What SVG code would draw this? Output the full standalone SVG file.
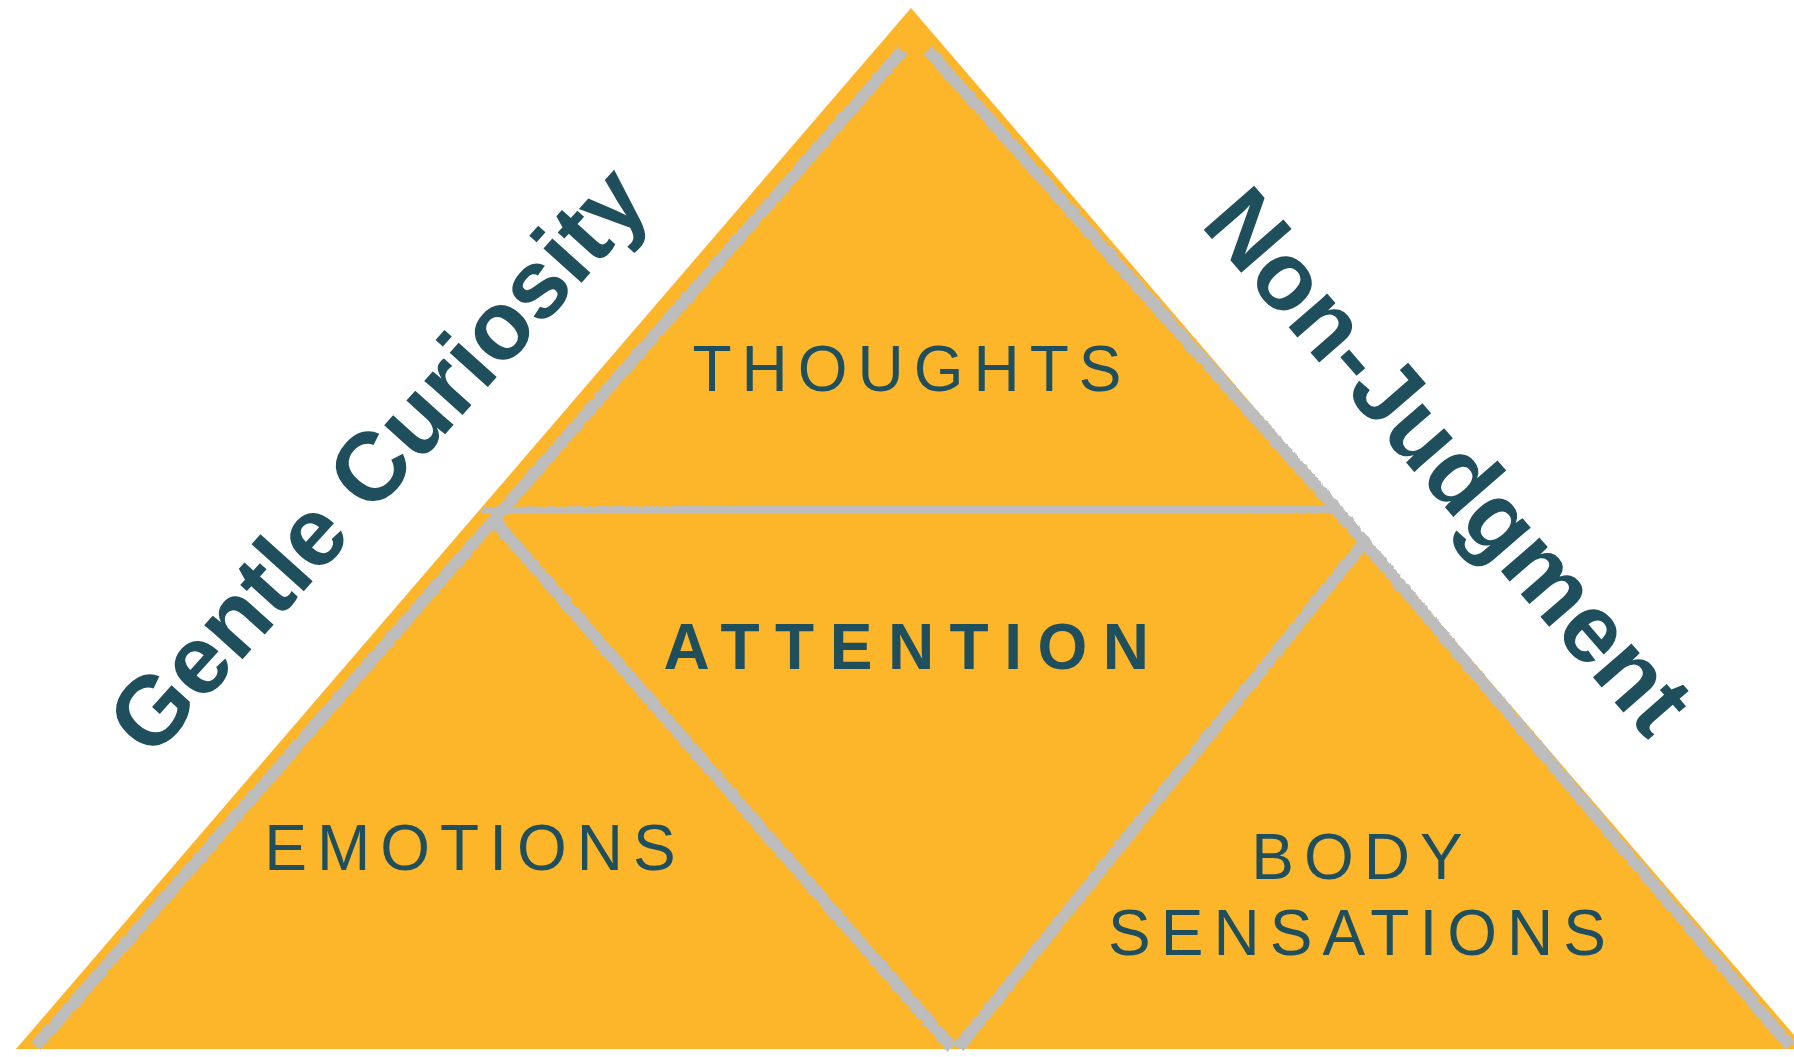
<svg xmlns="http://www.w3.org/2000/svg" width="1794" height="1057" viewBox="0 0 1794 1057">
  <style>
    .label { font-family: "Liberation Sans", Arial, sans-serif; fill: #1f4e5c; }
    .area { font-size: 64px; letter-spacing: 10px; text-anchor: middle; }
    .core { font-size: 64px; font-weight: bold; letter-spacing: 15.5px; text-anchor: middle; }
    .side { font-size: 97px; font-weight: bold; text-anchor: middle; }
    .chalk { stroke: #bdbdbd; stroke-width: 12; fill: none; stroke-linecap: butt; stroke-linejoin: round; filter: url(#rough); }
  </style>
  <defs>
    <filter id="rough" x="-5%" y="-5%" width="110%" height="110%">
      <feTurbulence type="fractalNoise" baseFrequency="0.25" numOctaves="2" seed="7" result="noise"/>
      <feDisplacementMap in="SourceGraphic" in2="noise" scale="4" xChannelSelector="R" yChannelSelector="G"/>
    </filter>
  </defs>

  <rect width="1794" height="1057" fill="#ffffff"/>

  <!-- outer pyramid -->
  <g id="pyramid">
    <polygon points="911,8 1806,1049 16,1049" fill="#fdb52a"/>
  </g>

  <!-- chalk dividing lines -->
  <g id="connectors">
    <line class="chalk" x1="36" y1="1046" x2="903" y2="50"/>
    <polyline class="chalk" points="928,50 1150,300 1333,505 1790,1046"/>
    <line class="chalk" x1="482" y1="513" x2="1340" y2="507"/>
    <line class="chalk" x1="492" y1="518" x2="952" y2="1048"/>
    <line class="chalk" x1="1362" y1="545" x2="958" y2="1048"/>
    <line class="chalk" x1="18" y1="1051" x2="1794" y2="1051" style="stroke-width:12"/>
  </g>

  <g id="thoughts">
    <text class="label area" x="912" y="391">THOUGHTS</text>
  </g>
  <g id="attention">
    <text class="label core" x="914" y="669">ATTENTION</text>
  </g>
  <g id="emotions">
    <text class="label area" x="475" y="870">EMOTIONS</text>
  </g>
  <g id="body-sensations">
    <text class="label area" x="1362" y="879">BODY</text>
    <text class="label area" x="1362" y="955">SENSATIONS</text>
  </g>
  <g id="gentle-curiosity">
    <text class="label side" transform="translate(402,482) rotate(-48)">Gentle Curiosity</text>
  </g>
  <g id="non-judgment">
    <text class="label side" transform="translate(1424,483) rotate(49)">Non-Judgment</text>
  </g>
</svg>
